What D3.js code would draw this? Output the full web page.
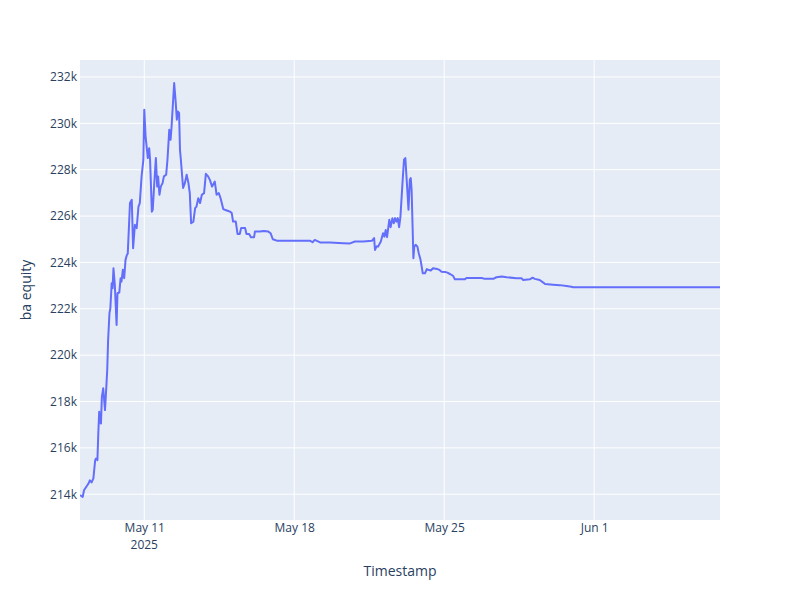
<!DOCTYPE html>
<html>
<head>
<meta charset="utf-8">
<script src="https://cdn.jsdelivr.net/npm/d3@7"></script>
<style>
  html, body { margin: 0; padding: 0; background: #fff; }
  svg { display: block; }
</style>
</head>
<body>
<svg id="chart" width="800" height="600"></svg>
<script>
// ---- data ----
const timestamps = [
"2025-05-08 00:00","2025-05-08 03:00","2025-05-08 04:30","2025-05-08 09:30","2025-05-08 11:00","2025-05-08 13:00","2025-05-08 15:00","2025-05-08 17:00","2025-05-08 18:00","2025-05-08 19:30",
"2025-05-08 20:30","2025-05-08 21:30","2025-05-08 22:30","2025-05-08 23:30","2025-05-09 00:30","2025-05-09 02:00","2025-05-09 04:00","2025-05-09 05:00","2025-05-09 06:30","2025-05-09 07:30",
"2025-05-09 09:00","2025-05-09 10:00","2025-05-09 11:30","2025-05-09 12:30","2025-05-09 13:30","2025-05-09 15:00","2025-05-09 17:00","2025-05-09 18:00","2025-05-09 20:00","2025-05-09 21:30",
"2025-05-09 22:30","2025-05-10 00:00","2025-05-10 01:30","2025-05-10 03:00","2025-05-10 04:30","2025-05-10 05:30","2025-05-10 08:00","2025-05-10 10:00","2025-05-10 11:30","2025-05-10 13:30",
"2025-05-10 15:30","2025-05-10 17:30","2025-05-10 19:00","2025-05-10 21:00","2025-05-10 23:00","2025-05-11 00:00","2025-05-11 01:30","2025-05-11 04:00","2025-05-11 05:30","2025-05-11 06:30",
"2025-05-11 08:30","2025-05-11 09:30","2025-05-11 11:00","2025-05-11 13:00","2025-05-11 14:30","2025-05-11 15:30","2025-05-11 17:00","2025-05-11 18:30","2025-05-11 20:30","2025-05-11 22:00",
"2025-05-12 00:30","2025-05-12 02:00","2025-05-12 04:00","2025-05-12 05:30","2025-05-12 06:30","2025-05-12 09:30","2025-05-12 11:00","2025-05-12 12:30","2025-05-12 13:30","2025-05-12 15:00",
"2025-05-12 16:00","2025-05-12 17:00","2025-05-12 19:30","2025-05-12 21:30","2025-05-12 23:30","2025-05-13 01:30","2025-05-13 03:00","2025-05-13 04:30","2025-05-13 07:00","2025-05-13 09:00",
"2025-05-13 10:30","2025-05-13 12:30","2025-05-13 14:30","2025-05-13 16:30","2025-05-13 19:00","2025-05-13 21:00","2025-05-13 23:30","2025-05-14 01:30","2025-05-14 04:00","2025-05-14 07:00",
"2025-05-14 09:00","2025-05-14 11:30","2025-05-14 13:30","2025-05-14 16:30","2025-05-14 20:30","2025-05-15 00:00","2025-05-15 02:00","2025-05-15 03:30","2025-05-15 06:30","2025-05-15 08:30",
"2025-05-15 11:00","2025-05-15 12:30","2025-05-15 17:00","2025-05-15 18:30","2025-05-15 21:30","2025-05-15 23:30","2025-05-16 03:00","2025-05-16 04:00","2025-05-16 09:30","2025-05-16 14:00",
"2025-05-16 19:00","2025-05-16 21:30","2025-05-17 00:00","2025-05-17 04:30","2025-05-17 23:00","2025-05-18 17:30","2025-05-18 20:30","2025-05-18 23:00","2025-05-19 02:00","2025-05-19 05:00",
"2025-05-19 16:00","2025-05-20 07:00","2025-05-20 14:30","2025-05-20 20:00","2025-05-21 05:30","2025-05-21 15:00","2025-05-21 17:30","2025-05-21 18:30","2025-05-21 20:30","2025-05-21 22:00",
"2025-05-22 01:00","2025-05-22 03:30","2025-05-22 05:00","2025-05-22 06:30","2025-05-22 08:00","2025-05-22 10:30","2025-05-22 12:00","2025-05-22 14:00","2025-05-22 15:30","2025-05-22 17:00",
"2025-05-22 18:30","2025-05-22 20:00","2025-05-22 21:30","2025-05-22 23:00","2025-05-23 01:30","2025-05-23 03:00","2025-05-23 04:30","2025-05-23 06:00","2025-05-23 08:00","2025-05-23 09:30",
"2025-05-23 10:30","2025-05-23 11:30","2025-05-23 12:30","2025-05-23 13:30","2025-05-23 14:30","2025-05-23 16:00","2025-05-23 18:00","2025-05-23 19:30","2025-05-23 21:30","2025-05-23 22:30",
"2025-05-24 00:00","2025-05-24 02:30","2025-05-24 04:30","2025-05-24 06:00","2025-05-24 09:00","2025-05-24 11:30","2025-05-24 16:00","2025-05-24 18:30","2025-05-24 21:00","2025-05-25 01:00",
"2025-05-25 03:30","2025-05-25 06:30","2025-05-25 10:00","2025-05-25 12:00","2025-05-25 23:00","2025-05-26 01:00","2025-05-26 18:00","2025-05-26 21:30","2025-05-27 07:00","2025-05-27 10:30",
"2025-05-27 16:30","2025-05-27 22:00","2025-05-28 09:00","2025-05-28 14:30","2025-05-28 16:30","2025-05-29 00:00","2025-05-29 03:00","2025-05-29 05:30","2025-05-29 11:00","2025-05-29 15:00",
"2025-05-29 17:00","2025-05-30 02:00","2025-05-30 09:30","2025-05-30 17:00","2025-05-30 22:30","2025-05-31 00:30","2025-06-06 21:00"
];
const equity = [
213960,213880,214170,214460,214600,214510,214680,215470,215540,215470,
216620,217560,217120,217050,218200,218570,217630,218280,219360,220650,
221810,222020,223100,222890,223750,223030,221300,222670,222700,223320,
223170,223680,223320,224110,224320,224380,226560,226700,224610,225620,
225480,226410,226560,227710,228430,230590,229430,228500,228930,228430,
226190,226270,227270,228500,227270,227710,226920,227270,227420,227710,
227780,228430,229720,229290,229800,231740,231020,230160,230510,230450,
228860,228430,227210,227420,227780,227420,226990,225690,225760,226340,
226410,226770,226560,226920,226990,227820,227710,227560,227270,227490,
226920,226990,226770,226300,226240,226190,226130,225760,225760,225230,
225230,225480,225480,225230,225230,225090,225090,225330,225330,225360,
225330,225260,225000,224940,224940,224940,224870,224970,224920,224860,
224860,224830,224820,224900,224900,224930,225050,224540,224700,224680,
224900,225260,225110,225400,225090,225840,225520,225910,225690,225910,
225760,225910,225520,225980,227560,228430,228500,227560,226270,227560,
227640,227130,225690,224180,224680,224760,224680,224400,224110,223890,
223530,223530,223710,223680,223650,223750,223720,223680,223600,223590,
223560,223500,223420,223270,223270,223330,223330,223290,223290,223360,
223390,223360,223320,223320,223240,223270,223340,223290,223240,223130,
223070,223040,223020,222980,222950,222930,222930
];
const yTickValues = [214000,216000,218000,220000,222000,224000,226000,228000,230000,232000];
const xTickDates = ["2025-05-11","2025-05-18","2025-05-25","2025-06-01"];
const xTickLabels = ["May 11","May 18","May 25","Jun 1"];
const yTitle = "ba equity";
const xTitle = "Timestamp";

// ---- layout ----
const W = 800, H = 600;
const m = {left: 80, right: 80, top: 60, bottom: 80};
const pw = W - m.left - m.right, ph = H - m.top - m.bottom;
const parse = d3.timeParse("%Y-%m-%d %H:%M");
const parseDay = d3.timeParse("%Y-%m-%d");
const data = timestamps.map((t, i) => ({t: parse(t), v: equity[i]}));

const svg = d3.select("#chart");
const font = '"Open Sans", verdana, arial, sans-serif';
const textColor = "#2a3f5f";

const x = d3.scaleTime().domain(d3.extent(data, d => d.t)).range([m.left, m.left + pw]);
const [vmin, vmax] = d3.extent(data, d => d.v);
const pad = (vmax - vmin) * 0.05 / 0.9;
const y = d3.scaleLinear().domain([vmin - pad, vmax + pad]).range([m.top + ph, m.top]);

svg.append("rect").attr("x", m.left).attr("y", m.top).attr("width", pw).attr("height", ph).attr("fill", "#E5ECF6");

// grid
const g = svg.append("g");
g.selectAll("line.yg").data(yTickValues).join("line")
  .attr("x1", m.left).attr("x2", m.left + pw)
  .attr("y1", d => y(d)).attr("y2", d => y(d))
  .attr("stroke", "#fff").attr("stroke-width", 1);
const xTicks = xTickDates.map(parseDay);
g.selectAll("line.xg").data(xTicks).join("line")
  .attr("x1", d => x(d)).attr("x2", d => x(d))
  .attr("y1", m.top).attr("y2", m.top + ph)
  .attr("stroke", "#fff").attr("stroke-width", 1);

// y axis labels
const yAxis = d3.axisLeft(y).tickValues(yTickValues).tickSize(0).tickPadding(3).tickFormat(d3.format("~s"));
const ya = svg.append("g").attr("transform", `translate(${m.left},0)`).call(yAxis);
ya.select(".domain").remove();
ya.selectAll("text").attr("font-family", font).attr("font-size", 12).attr("fill", textColor);

// x axis labels
const xAxis = d3.axisBottom(x).tickValues(xTicks).tickSize(0).tickPadding(3)
  .tickFormat((d, i) => xTickLabels[i]);
const xa = svg.append("g").attr("transform", `translate(0,${m.top + ph})`).call(xAxis);
xa.select(".domain").remove();
xa.selectAll("text").attr("font-family", font).attr("font-size", 12).attr("fill", textColor);
svg.append("text").attr("x", x(xTicks[0])).attr("y", m.top + ph + 29)
  .attr("text-anchor", "middle").attr("font-family", font).attr("font-size", 12).attr("fill", textColor)
  .text("2025");

// titles
svg.append("text").attr("x", m.left + pw / 2).attr("y", m.top + ph + 56)
  .attr("text-anchor", "middle").attr("font-family", font).attr("font-size", 14).attr("fill", textColor)
  .text(xTitle);
svg.append("text").attr("transform", `translate(31,${m.top + ph / 2}) rotate(-90)`)
  .attr("text-anchor", "middle").attr("font-family", font).attr("font-size", 14).attr("fill", textColor)
  .text(yTitle);

// line
const line = d3.line().x(d => x(d.t)).y(d => y(d.v));
svg.append("defs").append("clipPath").attr("id", "clip").append("rect")
  .attr("x", m.left).attr("y", m.top).attr("width", pw).attr("height", ph);
svg.append("path").datum(data).attr("d", line).attr("clip-path", "url(#clip)")
  .attr("fill", "none").attr("stroke", "#636efa").attr("stroke-width", 2).attr("stroke-linejoin", "round");
</script>
</body>
</html>
